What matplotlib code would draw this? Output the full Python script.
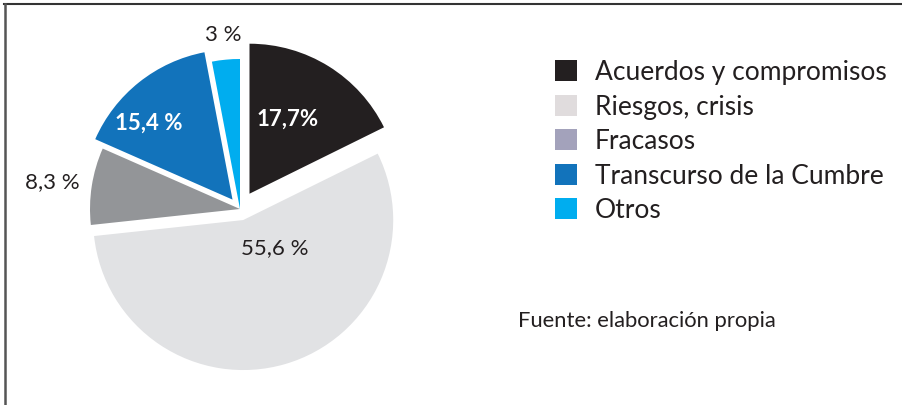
import matplotlib.pyplot as plt
from matplotlib.patches import Patch
from matplotlib.lines import Line2D

plt.rcParams['font.family'] = ['Lato', 'DejaVu Sans']

# data
categories = ['Acuerdos y compromisos', 'Riesgos, crisis', 'Fracasos',
              'Transcurso de la Cumbre', 'Otros']
shares = [17.7, 55.6, 8.3, 15.4, 3.0]
pct_labels = ['17,7%', '55,6 %', '8,3 %', '15,4 %', '3 %']

# styling
slice_colors = ['#231f20', '#e1e2e4', '#939598', '#1273bb', '#00adef']
legend_colors = ['#231f20', '#e0dcdd', '#a3a2bb', '#1273bb', '#00adef']
explode = [18, 11.5, 0, 12, 0]   # pixels (pie offsets are in data units)
label_colors = ['white', '#231f20', '#231f20', 'white', '#231f20']
label_weights = ['bold', 'normal', 'normal', 'bold', 'normal']
# label positions in pixels (x, y from top)
label_xy = [(288, 119), (275, 248), (52, 182), (149, 123), (223, 35)]

W, H = 902, 405
fig = plt.figure(figsize=(W / 100, H / 100), dpi=100)
ax = fig.add_axes([0, 0, 1, 1])

ax.pie(shares, colors=slice_colors, explode=explode, startangle=90,
       counterclock=False, radius=150, center=(240, H - 209),
       wedgeprops=dict(linewidth=0))
ax.set_xlim(0, W)
ax.set_ylim(0, H)
ax.set_aspect('equal')
ax.axis('off')

for txt, (x, y), c, w in zip(pct_labels, label_xy, label_colors, label_weights):
    ax.text(x, H - y, txt, color=c, fontsize=16, fontweight=w,
            ha='center', va='center')

# legend
handles = [Patch(facecolor=c, edgecolor='none') for c in legend_colors]
ax.legend(handles, categories, loc='upper left',
          bbox_to_anchor=(555 / W, 1 - 60 / H), frameon=False,
          fontsize=19, handlelength=0.83, handleheight=0.83,
          handletextpad=0.68, labelspacing=0.36, borderpad=0,
          borderaxespad=0, labelcolor='#231f20')

ax.text(518, H - 321, 'Fuente: elaboración propia', fontsize=15.8,
        color='#231f20', ha='left', va='center')

# frame lines (top and left)
fig.add_artist(Line2D([4 / W, 1], [1 - 4 / H, 1 - 4 / H], color='#333333',
                      lw=1.5, transform=fig.transFigure))
fig.add_artist(Line2D([4.5 / W, 4.5 / W], [0, 1 - 4 / H], color='#555555',
                      lw=1.8, transform=fig.transFigure))

fig.savefig('out.png', dpi=100)
